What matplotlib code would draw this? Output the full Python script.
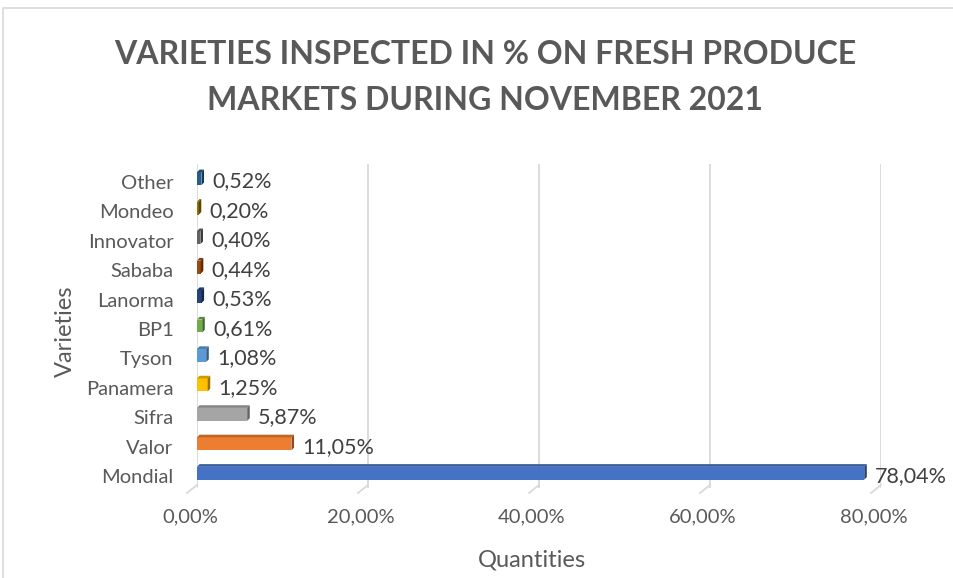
import matplotlib
matplotlib.use("Agg")
import matplotlib.pyplot as plt
from matplotlib.patches import Polygon, Rectangle
from matplotlib.lines import Line2D
import matplotlib.transforms as mtransforms

categories = ["Mondial", "Valor", "Sifra", "Panamera", "Tyson", "BP1",
              "Lanorma", "Sababa", "Innovator", "Mondeo", "Other"]
values = [78.04, 11.05, 5.87, 1.25, 1.08, 0.61, 0.53, 0.44, 0.40, 0.20, 0.52]
labels = ["78,04%", "11,05%", "5,87%", "1,25%", "1,08%", "0,61%",
          "0,53%", "0,44%", "0,40%", "0,20%", "0,52%"]
colors = ["#4472C4", "#ED7D31", "#A5A5A5", "#FFC000", "#5B9BD5", "#70AD47",
          "#264478", "#9E480E", "#636363", "#997300", "#255E91"]
xticks = [0, 20, 40, 60, 80]
xticklabels = ["0,00%", "20,00%", "40,00%", "60,00%", "80,00%"]

plt.rcParams['font.family'] = ['Lato', 'DejaVu Sans']

W, H = 954, 578
fig = plt.figure(figsize=(W / 100, H / 100), dpi=100)
ax_top, ax_bot = 164.0, 488.0
ax = fig.add_axes([197 / W, 1 - ax_bot / H, (881 - 197) / W, (ax_bot - ax_top) / H])

def darker(c, f=0.7):
    r, g, b = matplotlib.colors.to_rgb(c)
    return (r * f, g * f, b * f)

ypos = list(range(len(categories)))
h = 0.44
dx, dy = 0.3, 0.09
for y, v, c, lab in zip(ypos, values, colors, labels):
    ax.barh(y, v, height=h, color=c, zorder=3)
    top = Polygon([(0, y + h / 2), (v, y + h / 2), (v + dx, y + h / 2 + dy),
                   (dx, y + h / 2 + dy)], closed=True, color=darker(c, 0.8), zorder=3, lw=0)
    side = Polygon([(v, y - h / 2), (v + dx, y - h / 2 + dy), (v + dx, y + h / 2 + dy),
                    (v, y + h / 2)], closed=True, color=darker(c, 0.6), zorder=3, lw=0)
    ax.add_patch(top)
    ax.add_patch(side)
    ax.annotate(lab, xy=(v + dx, y), xytext=(6, -2), textcoords="offset points",
                va="center", ha="left", fontsize=15.5, color="#404040")

ax.set_xlim(0, 80)
ax.set_ylim(-0.5, len(categories) - 0.5)
ax.set_xticks(xticks)
ax.set_xticklabels(xticklabels)
ax.set_yticks(ypos)
ax.set_yticklabels(categories)
ax.tick_params(axis="both", length=0, labelsize=14.5, colors="#595959")
ax.tick_params(axis="x", pad=15)
ax.tick_params(axis="y", pad=17)
shift = mtransforms.ScaledTranslation(-7 / 100, 0, fig.dpi_scale_trans)
for t in ax.get_xticklabels():
    t.set_transform(t.get_transform() + shift)
yshift = mtransforms.ScaledTranslation(0, -3 / 100, fig.dpi_scale_trans)
for t in ax.get_yticklabels():
    t.set_transform(t.get_transform() + yshift)
ax.grid(axis="x", color="#D9D9D9", linewidth=1.3, zorder=0)
for s in ["top", "right", "bottom", "left"]:
    ax.spines[s].set_visible(False)
ax.set_axisbelow(True)

# floor edges (3D look) at the bottom of each gridline
for xv in xticks:
    x0, y0 = ax.transData.transform((xv, -0.5))
    ln = Line2D([x0, x0 - 10], [y0 + 3, y0 - 5], transform=None,
                color="#D9D9D9", linewidth=1.3)
    fig.lines.append(ln)

fig.text(65 / W, 1 - 331 / H, "Varieties", rotation=90, ha="center", va="center",
         fontsize=17, color="#595959")
fig.text(532 / W, 1 - 560 / H, "Quantities", ha="center", va="center",
         fontsize=17, color="#595959")

fig.text(485 / W, 1 - 55 / H, "VARIETIES INSPECTED IN % ON FRESH PRODUCE",
         ha="center", va="center", fontsize=23, fontweight="bold", color="#595959")
fig.text(485 / W, 1 - 100 / H, "MARKETS DURING NOVEMBER 2021",
         ha="center", va="center", fontsize=23, fontweight="bold", color="#595959")

fig.patches.append(Rectangle((3.5 / W, -0.01), 1, 1 - 8.5 / H + 0.01, transform=fig.transFigure,
                             fill=False, edgecolor="#D9D9D9", linewidth=1.2))

fig.savefig("out.png", dpi=100)
